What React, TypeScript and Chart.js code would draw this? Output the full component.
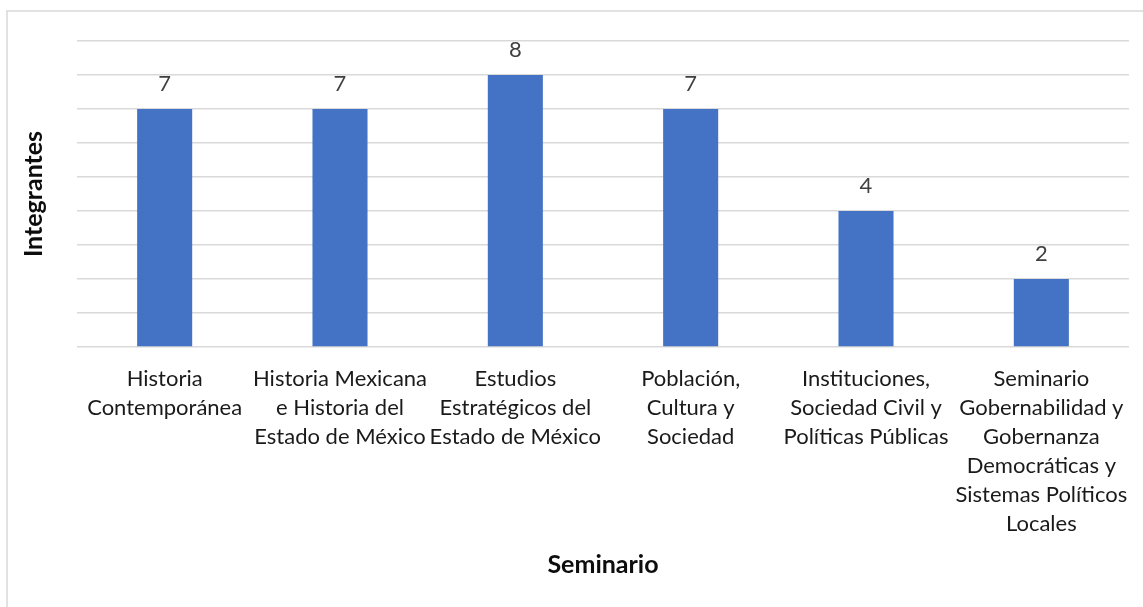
import React, { useEffect, useRef } from "react";
import { Chart, registerables } from "chart.js";

Chart.register(...registerables);

const categories: string[][] = [
  ["Historia", "Contemporánea"],
  ["Historia Mexicana", "e Historia del", "Estado de México"],
  ["Estudios", "Estratégicos del", "Estado de México"],
  ["Población,", "Cultura y", "Sociedad"],
  ["Instituciones,", "Sociedad Civil y", "Políticas Públicas"],
  ["Seminario", "Gobernabilidad y", "Gobernanza", "Democráticas y", "Sistemas Políticos", "Locales"],
];
const integrantes: number[] = [7, 7, 8, 7, 4, 2];
const yTitle = "Integrantes";
const xTitle = "Seminario";

const FONT = "Lato, 'Noto Sans', sans-serif";

const borderPlugin = {
  id: "outerBorder",
  beforeDraw(chart: any) {
    const ctx = chart.ctx;
    ctx.save();
    ctx.fillStyle = "#ffffff";
    ctx.fillRect(0, 0, chart.width, chart.height);
    ctx.strokeStyle = "#d9d9d9";
    ctx.lineWidth = 1.5;
    ctx.beginPath();
    ctx.moveTo(7, chart.height + 5);
    ctx.lineTo(7, 11);
    ctx.lineTo(chart.width + 5, 11);
    ctx.stroke();
    ctx.restore();
  },
};

const valueLabels = {
  id: "valueLabels",
  afterDatasetsDraw(chart: any) {
    const ctx = chart.ctx;
    const meta = chart.getDatasetMeta(0);
    const data = chart.data.datasets[0].data;
    ctx.save();
    ctx.font = `22px ${FONT}`;
    ctx.fillStyle = "#404040";
    ctx.textAlign = "center";
    ctx.textBaseline = "middle";
    meta.data.forEach((bar: any, i: number) => {
      ctx.fillText(String(data[i]), bar.x, bar.y - 25);
    });
    ctx.restore();
  },
};

export default function App() {
  const ref = useRef<HTMLCanvasElement | null>(null);
  useEffect(() => {
    if (!ref.current) return;
    const chart = new Chart(ref.current, {
      type: "bar",
      data: {
        labels: categories,
        datasets: [
          {
            label: yTitle,
            data: integrantes,
            backgroundColor: "#4472C4",
            borderWidth: 0,
            categoryPercentage: 1,
            barPercentage: 0.314,
          },
        ],
      },
      options: {
        animation: false,
        responsive: false,
        maintainAspectRatio: false,
        layout: { padding: { top: 41, right: 14, left: 0, bottom: 0 } },
        plugins: {
          legend: { display: false },
          tooltip: { enabled: false },
        },
        scales: {
          x: {
            grid: { display: false, drawTicks: false },
            border: { display: false },
            ticks: {
              autoSkip: false,
              maxRotation: 0,
              minRotation: 0,
              padding: 17.5,
              color: "#1a1a1a",
              font: { family: FONT, size: 22, lineHeight: 29 / 22 },
            },
            title: {
              display: true,
              text: xTitle,
              color: "#0d0d0d",
              font: { family: FONT, size: 25, weight: "bold", lineHeight: 1.2 },
              padding: { top: 0, bottom: 27 },
            },
            afterFit(scale: any) {
              scale.height = 260;
              scale.paddingLeft = 0;
              scale.paddingRight = 0;
            },
          },
          y: {
            min: 0,
            max: 9,
            ticks: { display: false, stepSize: 1 },
            grid: { color: "#d9d9d9", lineWidth: 1.5, drawTicks: false },
            border: { display: false },
            title: {
              display: true,
              text: yTitle,
              color: "#0d0d0d",
              font: { family: FONT, size: 25, weight: "bold", lineHeight: 1.2 },
              padding: { top: 19, bottom: 0 },
            },
            afterFit(scale: any) {
              scale.width = 77;
            },
          },
        },
      },
      plugins: [borderPlugin, valueLabels],
    });
    return () => chart.destroy();
  }, []);
  return (
    <canvas
      ref={ref}
      width={1143}
      height={607}
      style={{ position: "fixed", left: 0, top: 0, width: 1143, height: 607 }}
    />
  );
}
